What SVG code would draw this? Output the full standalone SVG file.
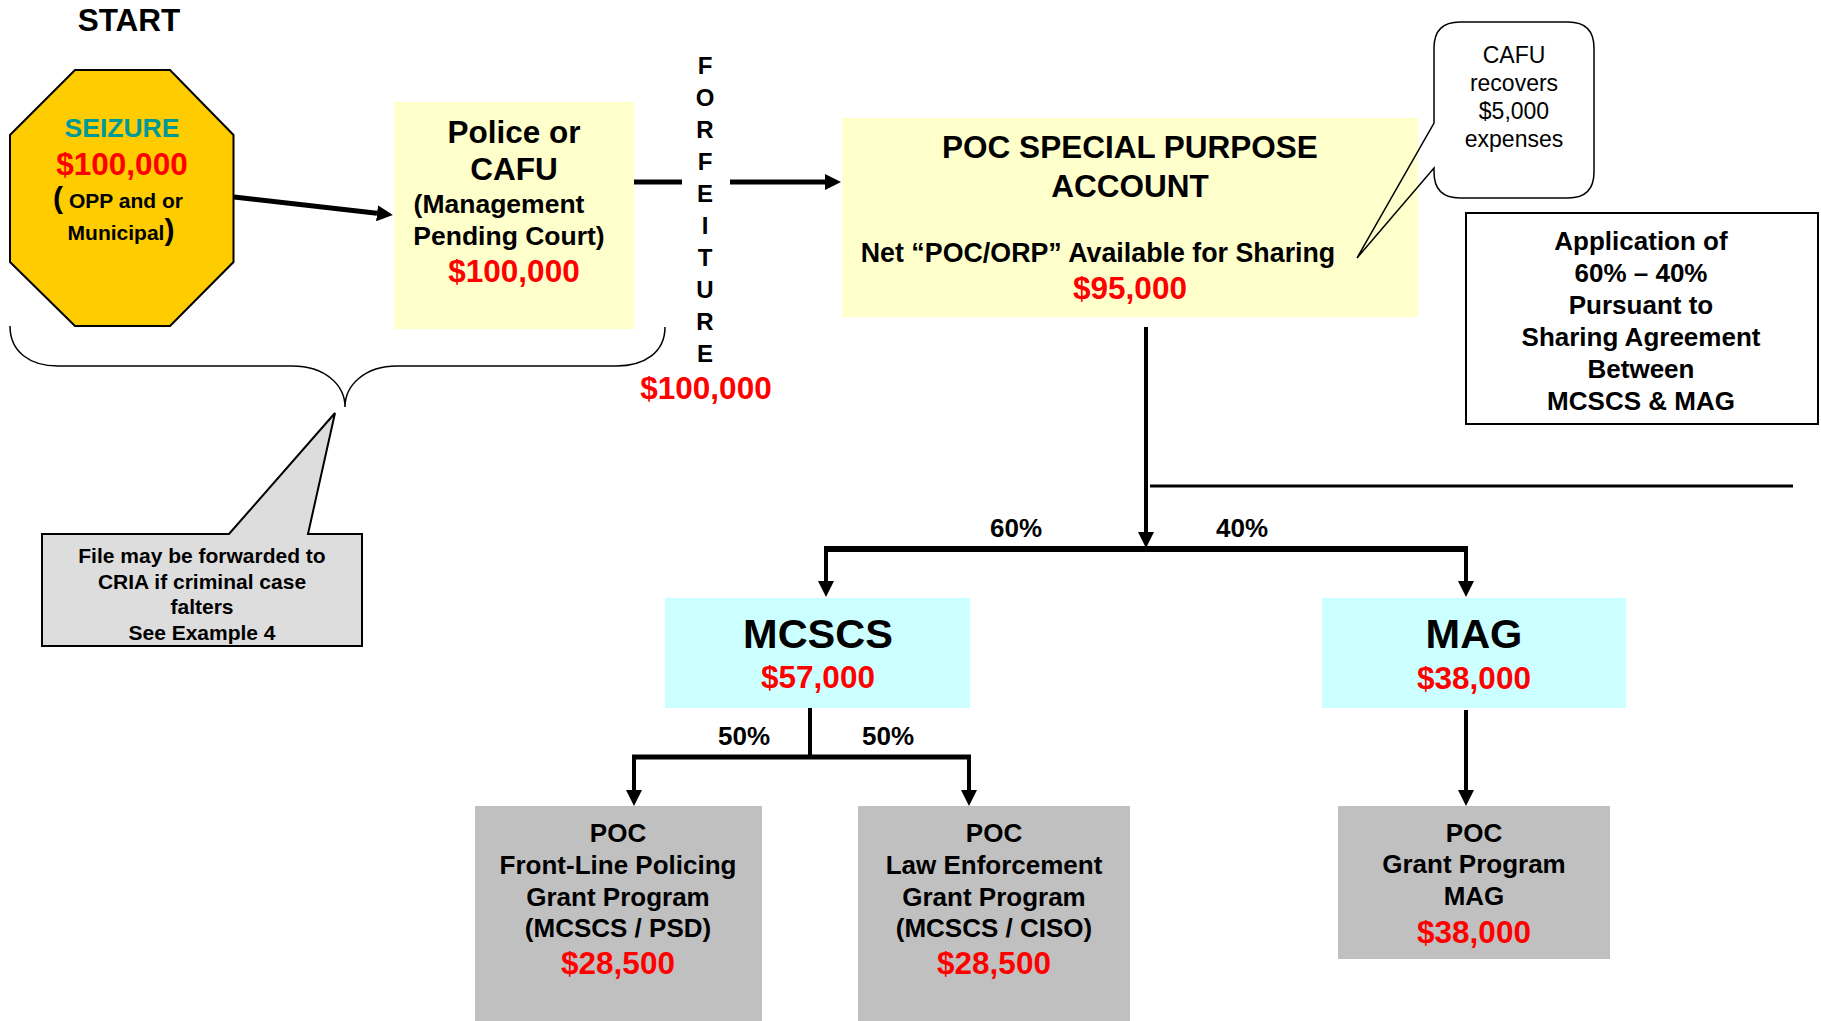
<svg xmlns="http://www.w3.org/2000/svg" width="1821" height="1021" viewBox="0 0 1821 1021">
<style>
text{font-family:"Liberation Sans",Arial,sans-serif;font-weight:bold;text-anchor:middle;fill:#000}
.red{fill:#FF0000}
.teal{fill:#009999}
.b31{font-size:31.5px}
.b26{font-size:26px}
.b21{font-size:21px}
.b24{font-size:24px}
.b41{font-size:41.5px}
.reg{font-weight:normal;font-size:23px}
.conn{stroke:#000;fill:none}
</style>
<defs>
<marker id="ah" viewBox="0 0 16 16" refX="0" refY="8" markerWidth="16" markerHeight="16" markerUnits="userSpaceOnUse" orient="auto">
<path d="M0,0 L16,8 L0,16 Z" fill="#000"/>
</marker>
</defs>
<rect width="1821" height="1021" fill="#fff"/>

<g id="start"><text class="b31" x="129" y="31">START</text></g>

<g id="seizure">
<polygon points="75,70 170,70 233.5,135 233.5,262 170,326 75,326 10,262 10,135" fill="#FFCC00" stroke="#000" stroke-width="2"/>
<text class="teal" x="122" y="137" font-size="26.5">SEIZURE</text>
<text class="red b31" x="122" y="175">$100,000</text>
<text class="b21" x="118" y="208"><tspan font-size="30">(</tspan> OPP and or</text>
<text class="b21" x="121" y="240">Municipal<tspan font-size="30">)</tspan></text>
</g>

<g id="police">
<rect x="394" y="102" width="240" height="227" fill="#FFFFCC"/>
<text class="b31" x="514" y="143">Police or</text>
<text class="b31" x="514" y="180">CAFU</text>
<text x="499" y="213" font-size="26.5">(Management</text>
<text x="509" y="245" font-size="26.5">Pending Court)</text>
<text class="red b31" x="514" y="282">$100,000</text>
</g>

<g id="forfeiture">
<text class="b24" x="705" y="74">F</text>
<text class="b24" x="705" y="106">O</text>
<text class="b24" x="705" y="138">R</text>
<text class="b24" x="705" y="170">F</text>
<text class="b24" x="705" y="202">E</text>
<text class="b24" x="705" y="234">I</text>
<text class="b24" x="705" y="266">T</text>
<text class="b24" x="705" y="298">U</text>
<text class="b24" x="705" y="330">R</text>
<text class="b24" x="705" y="362">E</text>
<text class="red b31" x="706" y="399">$100,000</text>
</g>

<g id="brace">
<path d="M10,326 C10,352 30,366 58,366 L292,366 C325,366 345,385 345,407 C345,385 365,366 397,366 L616,366 C645,366 665,352 665,327" fill="none" stroke="#000" stroke-width="1.5"/>
</g>

<g id="cria-callout">
<path d="M42,534 L229,534 L335,413 L308,534 L362,534 L362,646 L42,646 Z" fill="#DDDDDD" stroke="#000" stroke-width="2"/>
<text class="b21" x="202" y="563">File may be forwarded to</text>
<text class="b21" x="202" y="589">CRIA if criminal case</text>
<text class="b21" x="202" y="614">falters</text>
<text class="b21" x="202" y="640">See Example 4</text>
</g>

<g id="poc-account">
<rect x="842" y="118" width="576" height="199" fill="#FFFFCC"/>
<text x="1130" y="158" font-size="31.5">POC SPECIAL PURPOSE</text>
<text x="1130" y="197" font-size="31.5">ACCOUNT</text>
<text x="1098" y="262" font-size="26.8">Net “POC/ORP” Available for Sharing</text>
<text class="red b31" x="1130" y="299">$95,000</text>
</g>

<g id="cafu-callout">
<path d="M1434,123 L1434,48 Q1434,22 1460,22 L1568,22 Q1594,22 1594,48 L1594,172 Q1594,198 1568,198 L1460,198 Q1434,198 1434,172 L1434,168 L1357,258 Z" fill="none" stroke="#000" stroke-width="1.5"/>
<text class="reg" x="1514" y="63">CAFU</text>
<text class="reg" x="1514" y="91">recovers</text>
<text class="reg" x="1514" y="119">$5,000</text>
<text class="reg" x="1514" y="147">expenses</text>
</g>

<g id="application">
<rect x="1466" y="213" width="352" height="211" fill="#fff" stroke="#000" stroke-width="2"/>
<text class="b26" x="1641" y="250">Application of</text>
<text class="b26" x="1641" y="282">60% – 40%</text>
<text class="b26" x="1641" y="314">Pursuant to</text>
<text class="b26" x="1641" y="346">Sharing Agreement</text>
<text class="b26" x="1641" y="378">Between</text>
<text class="b26" x="1641" y="410">MCSCS &amp; MAG</text>
</g>

<g id="mcscs">
<rect x="665" y="598" width="305" height="110" fill="#CCFFFF"/>
<text class="b41" x="818" y="648">MCSCS</text>
<text class="red b31" x="818" y="688">$57,000</text>
</g>

<g id="mag">
<rect x="1322" y="598" width="304" height="110" fill="#CCFFFF"/>
<text class="b41" x="1474" y="648">MAG</text>
<text class="red b31" x="1474" y="689">$38,000</text>
</g>

<g id="frontline">
<rect x="475" y="806" width="287" height="215" fill="#C0C0C0"/>
<text class="b26" x="618" y="842">POC</text>
<text class="b26" x="618" y="874">Front-Line Policing</text>
<text class="b26" x="618" y="906">Grant Program</text>
<text class="b26" x="618" y="937">(MCSCS / PSD)</text>
<text class="red b31" x="618" y="974">$28,500</text>
</g>

<g id="lawenf">
<rect x="858" y="806" width="272" height="215" fill="#C0C0C0"/>
<text class="b26" x="994" y="842">POC</text>
<text class="b26" x="994" y="874">Law Enforcement</text>
<text class="b26" x="994" y="906">Grant Program</text>
<text class="b26" x="994" y="937">(MCSCS / CISO)</text>
<text class="red b31" x="994" y="974">$28,500</text>
</g>

<g id="maggrant">
<rect x="1338" y="806" width="272" height="153" fill="#C0C0C0"/>
<text class="b26" x="1474" y="842">POC</text>
<text class="b26" x="1474" y="873">Grant Program</text>
<text class="b26" x="1474" y="905">MAG</text>
<text class="red b31" x="1474" y="943">$38,000</text>
</g>

<g id="connectors">
<line class="conn" x1="234" y1="197" x2="377" y2="213.2" stroke-width="5" marker-end="url(#ah)"/>
<line class="conn" x1="634" y1="182" x2="682" y2="182" stroke-width="5"/>
<line class="conn" x1="730" y1="182" x2="825" y2="182" stroke-width="5" marker-end="url(#ah)"/>
<line class="conn" x1="1146" y1="327" x2="1146" y2="532" stroke-width="4" marker-end="url(#ah)"/>
<line class="conn" x1="1150" y1="486" x2="1793" y2="486" stroke-width="3"/>
<line class="conn" x1="824" y1="549" x2="1468" y2="549" stroke-width="6"/>
<line class="conn" x1="826" y1="549" x2="826" y2="581" stroke-width="4" marker-end="url(#ah)"/>
<line class="conn" x1="1466" y1="549" x2="1466" y2="581" stroke-width="4" marker-end="url(#ah)"/>
<line class="conn" x1="810" y1="708" x2="810" y2="757" stroke-width="4"/>
<line class="conn" x1="632" y1="757" x2="971" y2="757" stroke-width="5"/>
<line class="conn" x1="634" y1="757" x2="634" y2="790" stroke-width="4" marker-end="url(#ah)"/>
<line class="conn" x1="969" y1="757" x2="969" y2="790" stroke-width="4" marker-end="url(#ah)"/>
<line class="conn" x1="1466" y1="710" x2="1466" y2="790" stroke-width="4" marker-end="url(#ah)"/>
<text class="b26" x="1016" y="537">60%</text>
<text class="b26" x="1242" y="537">40%</text>
<text class="b26" x="744" y="745">50%</text>
<text class="b26" x="888" y="745">50%</text>
</g>
</svg>
